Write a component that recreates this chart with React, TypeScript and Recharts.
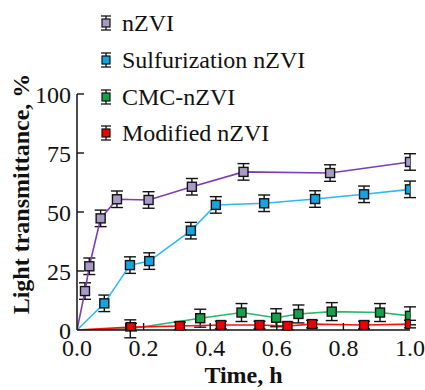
import { LineChart, Line, XAxis, YAxis, ErrorBar } from 'recharts'

// ---------------------------------------------------------------------------
// Data (time in h, light transmittance in %)
// ---------------------------------------------------------------------------
const nzviTime = [0, 0.024, 0.037, 0.071, 0.12, 0.215, 0.345, 0.5, 0.76, 1.0]
const nzviValue = [0, 16.5, 27, 47.3, 55.4, 55.1, 60.7, 67, 66.5, 71.2]

const sulfTime = [0, 0.082, 0.159, 0.217, 0.342, 0.417, 0.562, 0.715, 0.862, 1.0]
const sulfValue = [0, 11.3, 27.5, 29.2, 42.1, 53, 53.7, 55.5, 57.5, 59.6]

const cmcTime = [0, 0.16, 0.37, 0.494, 0.598, 0.665, 0.765, 0.91, 1.0]
const cmcValue = [0, 0.5, 5, 7.4, 5.2, 6.8, 7.8, 7.4, 6]

const modTime = [0, 0.162, 0.309, 0.432, 0.548, 0.632, 0.706, 0.862, 1.0]
const modValue = [0, 1.2, 1.7, 2.1, 2.1, 1.7, 2.5, 2.1, 2.5]

const seriesNames = ['nZVI', 'Sulfurization nZVI', 'CMC-nZVI', 'Modified nZVI']
const seriesErrors = [3.5, 3.5, 3.8, 1.6]

const xTicks = [0, 0.2, 0.4, 0.6, 0.8, 1.0]
const yTicks = [0, 25, 50, 75, 100]

const FONT = '"Liberation Serif", "Times New Roman", serif'

const styles = [
  { line: '#7d3cb5', fill: '#a79bc6' },
  { line: '#2cb8f0', fill: '#14a4e0' },
  { line: '#27b86a', fill: '#15a04a' },
  { line: '#ff1010', fill: '#ee0000' },
]

function build(times: number[], values: number[], err: number) {
  return times.map((t, i) => ({ t, v: values[i], err: t === 0 ? 0 : err }))
}

const datasets = [
  build(nzviTime, nzviValue, seriesErrors[0]),
  build(sulfTime, sulfValue, seriesErrors[1]),
  build(cmcTime, cmcValue, seriesErrors[2]),
  build(modTime, modValue, seriesErrors[3]),
]

// ---------------------------------------------------------------------------
// Square marker (origin point has no marker)
// ---------------------------------------------------------------------------
function makeDot(fill: string) {
  return (props: any) => {
    const { cx, cy, payload, index } = props
    if (payload?.t === 0 || cx == null) return <g key={`d-${index}`} />
    return (
      <rect
        key={`d-${index}`}
        x={cx - 4.5}
        y={cy - 4.5}
        width={9}
        height={9}
        fill={fill}
        stroke="#111"
        strokeWidth={1.4}
      />
    )
  }
}

// ---------------------------------------------------------------------------
// Ticks pointing inward
// ---------------------------------------------------------------------------
const TICK_MARGIN_X = 9
const TICK_MARGIN_Y = 6

function XTick(props: any) {
  const { x, y, payload } = props
  const axisY = y - TICK_MARGIN_X
  const v = payload.value
  return (
    <g>
      {v > 0 && v < 1 && (
        <line x1={x} y1={axisY} x2={x} y2={axisY - 7} stroke="#111" strokeWidth={1.4} />
      )}
      <text x={x} y={y} dy="0.71em" textAnchor="middle" fill="#111" fontSize={24} fontFamily={FONT}>
        {v.toFixed(1)}
      </text>
    </g>
  )
}

function YTick(props: any) {
  const { x, y, payload } = props
  const axisX = x + TICK_MARGIN_Y
  return (
    <g>
      {payload.value > 0 && (
        <line x1={axisX} y1={y} x2={axisX + 7} y2={y} stroke="#111" strokeWidth={1.4} />
      )}
      <text x={x} y={y} dy="0.355em" textAnchor="end" fill="#111" fontSize={24} fontFamily={FONT}>
        {payload.value}
      </text>
    </g>
  )
}

// ---------------------------------------------------------------------------
// Legend (overlay, does not take space from the plot)
// ---------------------------------------------------------------------------
function LegendIcon({ fill }: { fill: string }) {
  return (
    <svg width={14} height={20} style={{ display: 'block' }}>
      <line x1={7} y1={3} x2={7} y2={17} stroke="#111" strokeWidth={1.3} />
      <line x1={2} y1={3} x2={12} y2={3} stroke="#111" strokeWidth={1.3} />
      <line x1={2} y1={17} x2={12} y2={17} stroke="#111" strokeWidth={1.3} />
      <rect x={3} y={6} width={8} height={8} fill={fill} stroke="#111" strokeWidth={1.2} />
    </svg>
  )
}

function ChartLegend() {
  return (
    <div
      style={{
        position: 'absolute',
        left: 99,
        top: 5,
        fontFamily: FONT,
        fontSize: 24,
        color: '#111',
        pointerEvents: 'none',
      }}
    >
      {seriesNames.map((name, i) => (
        <div key={name} style={{ display: 'flex', alignItems: 'center', height: 36.7 }}>
          <LegendIcon fill={styles[i].fill} />
          <span style={{ marginLeft: 9, lineHeight: '24px', whiteSpace: 'nowrap' }}>{name}</span>
        </div>
      ))}
    </div>
  )
}

// ---------------------------------------------------------------------------
// Component
// ---------------------------------------------------------------------------
export default function App() {
  return (
    <div style={{ position: 'absolute', left: 0, top: 0, width: 425, height: 390, background: '#fff' }}>
      <LineChart width={425} height={390} margin={{ top: 94, right: 15, left: 27, bottom: 30 }}>
        <XAxis
          type="number"
          dataKey="t"
          domain={[0, 1]}
          ticks={xTicks}
          allowDataOverflow
          tickSize={0}
          tickMargin={TICK_MARGIN_X}
          tick={<XTick />}
          axisLine={{ stroke: '#111', strokeWidth: 1.5 }}
          tickLine={false}
          height={30}
          label={{
            content: (p: any) => {
              const vb = p.viewBox
              return (
                <text
                  x={vb.x + vb.width / 2}
                  y={vb.y + 53}
                  textAnchor="middle"
                  fontFamily={FONT}
                  fontSize={24}
                  fontWeight="bold"
                  fill="#111"
                >
                  Time, h
                </text>
              )
            },
          }}
        />
        <YAxis
          type="number"
          domain={[0, 100]}
          allowDataOverflow
          ticks={yTicks}
          tickSize={0}
          tickMargin={TICK_MARGIN_Y}
          tick={<YTick />}
          axisLine={{ stroke: '#111', strokeWidth: 1.5 }}
          tickLine={false}
          width={50}
          label={{
            content: (p: any) => {
              const vb = p.viewBox
              const cx = vb.x + 2
              const cy = vb.y + vb.height / 2 - 18
              return (
                <text
                  x={cx}
                  y={cy}
                  transform={`rotate(-90, ${cx}, ${cy})`}
                  textAnchor="middle"
                  fontFamily={FONT}
                  fontSize={24}
                  fontWeight="bold"
                  fill="#111"
                >
                  Light transmittance, %
                </text>
              )
            },
          }}
        />
        {datasets.map((data, i) => (
          <Line
            key={seriesNames[i]}
            data={data}
            dataKey="v"
            name={seriesNames[i]}
            type="linear"
            stroke={styles[i].line}
            strokeWidth={1.6}
            dot={makeDot(styles[i].fill)}
            activeDot={false}
            isAnimationActive={false}
          >
            <ErrorBar dataKey="err" width={6} stroke="#111" strokeWidth={1.4} direction="y" />
          </Line>
        ))}
      </LineChart>
      <ChartLegend />
    </div>
  )
}
